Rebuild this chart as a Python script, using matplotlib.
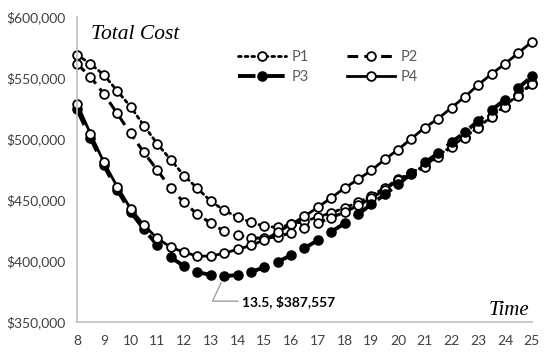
import matplotlib
matplotlib.use("Agg")
import matplotlib.pyplot as plt
import numpy as np

# time axis: 8 .. 25 in steps of 0.5
time = [8, 8.5, 9, 9.5, 10, 10.5, 11, 11.5, 12, 12.5, 13, 13.5, 14, 14.5, 15, 15.5, 16,
        16.5, 17, 17.5, 18, 18.5, 19, 19.5, 20, 20.5, 21, 21.5, 22, 22.5, 23, 23.5, 24, 24.5, 25]

p1 = [569000, 561600, 552600, 539500, 526500, 511000, 496000, 483000, 470000, 459500, 449000,
      441500, 436000, 431700, 428500, 427500, 430000, 432500, 436000, 439500, 443500, 448000,
      453500, 460000, 467000, 472500, 478000, 486500, 494000, 501800, 509500, 518500, 527300,
      536300, 545500]
p2 = [561600, 551000, 537000, 521000, 504500, 489000, 474500, 459500, 448000, 438200, 431000,
      424300, 421000, 419000, 418500, 420000, 423000, 427000, 431000, 435500, 440000, 445500,
      451500, 458500, 466000, 471500, 477000, 485600, 493200, 500900, 508700, 517700, 526500,
      535500, 545000]
p3 = [524500, 501000, 478500, 458500, 440500, 426000, 413000, 403000, 395800, 390800, 388600,
      387557, 388500, 391100, 394700, 399300, 404700, 410500, 417000, 423800, 430900, 438200,
      446400, 454600, 462700, 471700, 480700, 488300, 497300, 505500, 515000, 523800, 532200,
      541800, 551300]
p4 = [529000, 504400, 481000, 461000, 443000, 429200, 418600, 411300, 407200, 404000, 404000,
      406400, 409500, 412700, 417300, 423500, 430000, 436600, 444000, 451700, 459800, 466800,
      474200, 483200, 491300, 500300, 509300, 516700, 525700, 534600, 544400, 553400, 561600,
      570600, 579600]

yticks = [350000, 400000, 450000, 500000, 550000, 600000]
xticks = list(range(8, 26))

plt.rcParams['font.family'] = ['Lato', 'DejaVu Sans']

fig = plt.figure(figsize=(5.5, 3.56), dpi=100)
ax = fig.add_axes([0.14, 0.0955, 0.827, 0.857])

ms = 6.3
l1, = ax.plot(time, p1, color='black', lw=2, linestyle=(0, (1, 1.4)), dash_capstyle='round',
              marker='o', ms=ms, mfc='white', mec='black', mew=1.3, label='P1', clip_on=False)
l2, = ax.plot(time, p2, color='black', lw=2.2, linestyle=(0, (3.5, 2)),
              marker='o', ms=ms, mfc='white', mec='black', mew=1.3, label='P2', clip_on=False)
l3, = ax.plot(time, p3, color='black', lw=2.8, linestyle=(0, (4.5, 3)),
              marker='o', ms=ms, mfc='black', mec='black', mew=1.3, label='P3', clip_on=False)
l4, = ax.plot(time, p4, color='black', lw=2,
              marker='o', ms=ms, mfc='white', mec='black', mew=1.3, label='P4', clip_on=False)

ax.set_xlim(8, 25)
ax.set_ylim(350000, 600000)
ax.set_xticks(xticks)
ax.set_yticks(yticks)
ax.set_yticklabels([f"${v:,.0f}" for v in yticks])
ax.tick_params(length=0, labelsize=10, colors='#404040', pad=8)
ax.tick_params(axis='x', pad=9)

for s in ['top', 'right']:
    ax.spines[s].set_visible(False)
for s in ['left', 'bottom']:
    ax.spines[s].set_color('#bfbfbf')
    ax.spines[s].set_linewidth(1.2)

ax.text(0.03, 0.975, 'Total Cost', transform=ax.transAxes, family='Liberation Serif',
        style='italic', fontsize=15.5, va='top', ha='left')
ax.text(0.995, 0.008, 'Time', transform=ax.transAxes, family='Liberation Serif',
        style='italic', fontsize=15, va='bottom', ha='right')

# minimum of P3
i = int(np.argmin(p3))
ax.annotate(f"{time[i]:g}, ${p3[i]:,.0f}", xy=(time[i], p3[i]), xytext=(13, -18),
            textcoords='offset points', fontsize=10, fontweight='bold', va='center',
            arrowprops=dict(arrowstyle='-', color='#a0a0a0', lw=1,
                            connectionstyle='angle,angleA=0,angleB=65,rad=0',
                            shrinkA=1, shrinkB=5))

# row-wise legend: P1 P2 / P3 P4
ax.legend([l1, l3, l2, l4], ['P1', 'P3', 'P2', 'P4'], loc='upper left',
          bbox_to_anchor=(0.325, 0.935), ncol=2, frameon=False,
          fontsize=10.5, handlelength=3.3, columnspacing=2.6, handletextpad=0.4,
          labelspacing=0.45, labelcolor='#595959')

fig.savefig('out.png', dpi=100)
